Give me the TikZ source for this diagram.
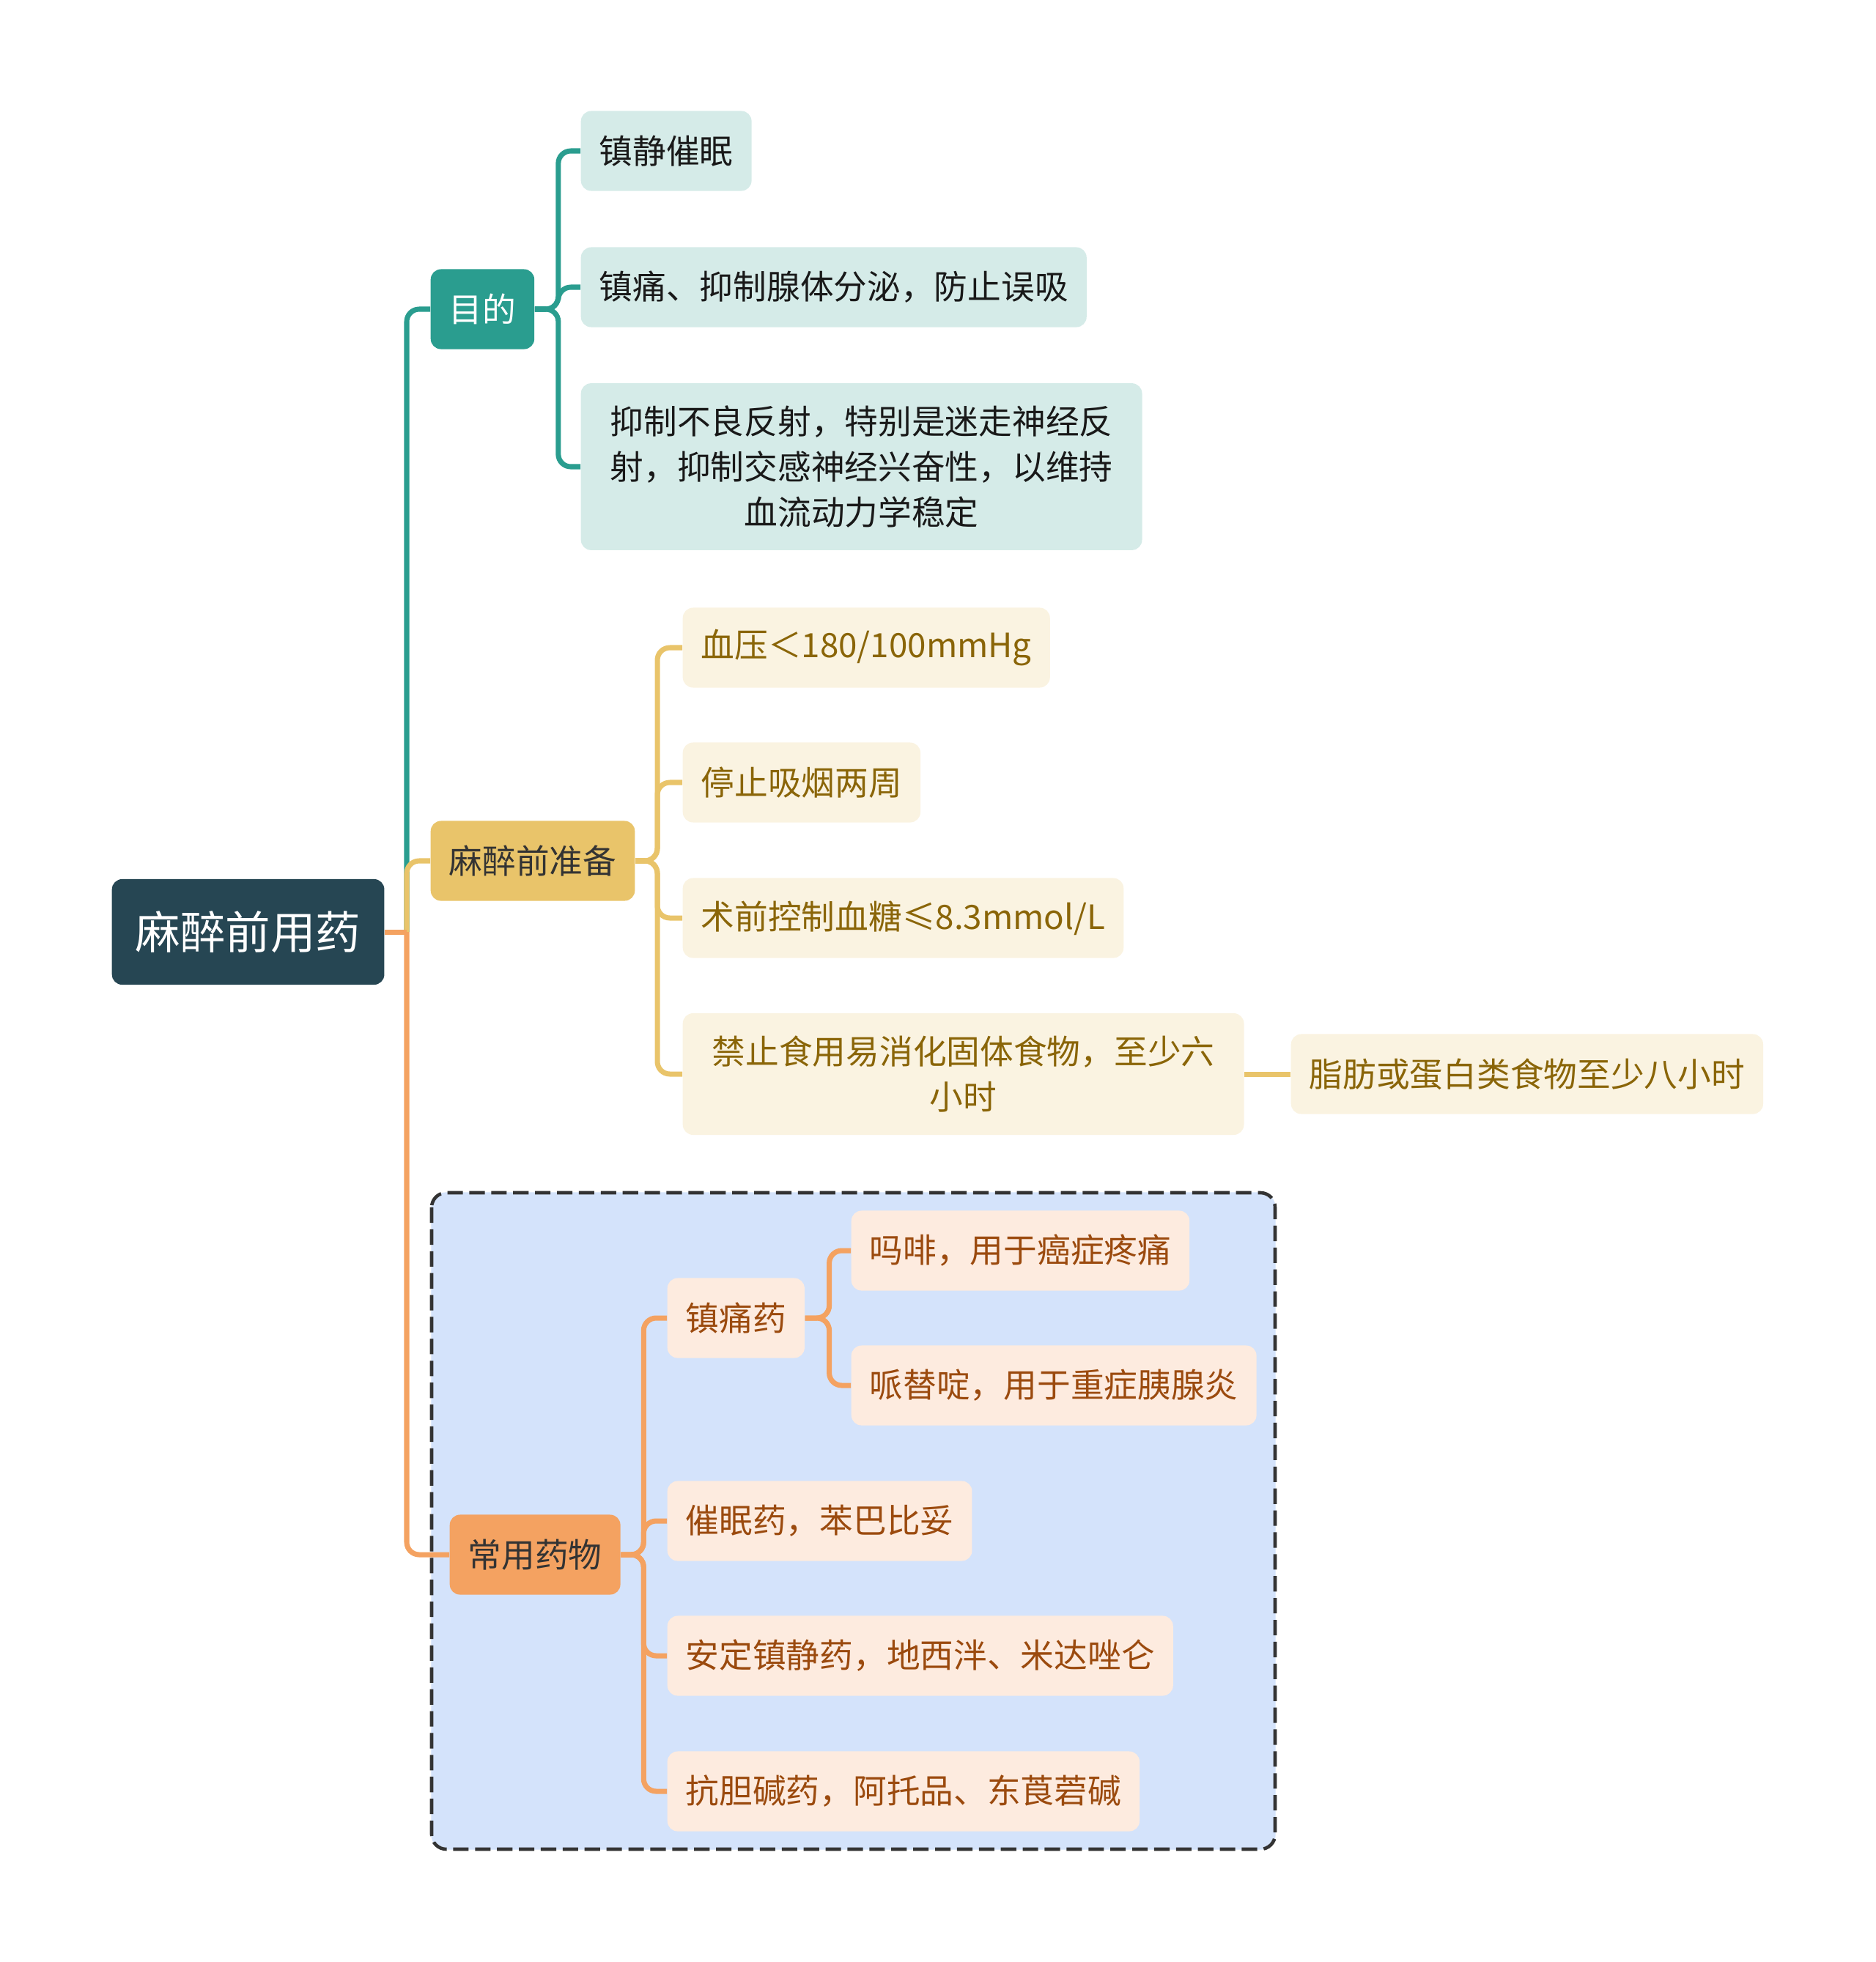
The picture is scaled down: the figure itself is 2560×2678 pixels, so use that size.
\documentclass[tikz,border=0pt]{standalone}
\usepackage{fontspec}
\setmainfont{Noto Sans CJK SC}
\usepackage{xcolor}
\usetikzlibrary{positioning}
\definecolor{rootfill}{HTML}{264653}
\definecolor{tealc}{HTML}{2A9D8F}
\definecolor{tealleaf}{HTML}{D5EBE8}
\definecolor{yellowc}{HTML}{E9C46A}
\definecolor{yellowleaf}{HTML}{FAF3E1}
\definecolor{yellowtext}{HTML}{8A6508}
\definecolor{orangec}{HTML}{F4A261}
\definecolor{orangeleaf}{HTML}{FDEBDF}
\definecolor{orangetext}{HTML}{9B4A0E}
\definecolor{groupfill}{HTML}{D4E3FB}
\newcommand{\nodefont}{\fontsize{13}{17.5}\selectfont}
\tikzset{
  base/.style={anchor=west, rounded corners=0.14cm, inner xsep=0.25cm, inner ysep=0.2cm,
    minimum height=1.09cm, font=\nodefont},
  rootbox/.style={base, fill=rootfill, text=white, inner xsep=0.32cm, minimum height=1.44cm,
    font=\fontsize{17.5}{21}\selectfont},
  tealtopic/.style={base, fill=tealc, text=white},
  yellowtopic/.style={base, fill=yellowc, text=black!80},
  orangetopic/.style={base, fill=orangec, text=black!80},
  tealleafbox/.style={base, fill=tealleaf, text=black!90},
  yellowleafbox/.style={base, fill=yellowleaf, text=yellowtext},
  orangeleafbox/.style={base, fill=orangeleaf, text=orangetext},
  multiline/.style={align=center, inner xsep=0.4cm, inner ysep=0.31cm},
  link/.style={line width=2pt, rounded corners=0.17cm}
}
\begin{document}
\begin{tikzpicture}[x=0.01cm, y=-0.01cm]
  \useasboundingbox (0,0) rectangle (2560,2678);

  % group frame
  \draw[groupfill!100, fill=groupfill, rounded corners=0.2cm] (589,1628) rectangle (1740,2524);
  \draw[black!80, line width=1.3pt, dash pattern=on 6pt off 2.5pt, rounded corners=0.2cm]
    (589,1628) rectangle (1740,2524);

  % root and topics
  \node[rootbox] (root) at (152,1272) {麻醉前用药};
  \node[tealtopic] (goal) at (587,422) {目的};
  \node[yellowtopic] (prep) at (587,1175) {麻醉前准备};
  \node[orangetopic] (drugs) at (613,2122) {常用药物};

  % goal leaves
  \node[tealleafbox] (g1) at (792,206) {镇静催眠};
  \node[tealleafbox] (g2) at (792,392) {镇痛、抑制腺体分泌，防止误吸};
  \node[tealleafbox, multiline] (g3) at (792,637)
    {抑制不良反射，特别是迷走神经反\\射，抑制交感神经兴奋性，以维持\\血流动力学稳定};

  % preparation leaves
  \node[yellowleafbox] (p1) at (931,884) {血压＜180/100mmHg};
  \node[yellowleafbox] (p2) at (931,1068) {停止吸烟两周};
  \node[yellowleafbox] (p3) at (931,1253) {术前控制血糖≤8.3mmol/L};
  \node[yellowleafbox, multiline] (p4) at (931,1466) {禁止食用易消化固体食物，至少六\\小时};
  \node[yellowleafbox] (p5) at (1761,1466) {脂肪或蛋白类食物至少八小时};

  % drug leaves
  \node[orangeleafbox] (d1) at (910,1799) {镇痛药};
  \node[orangeleafbox] (d11) at (1161,1707) {吗啡，用于癌症疼痛};
  \node[orangeleafbox] (d12) at (1161,1891) {哌替啶，用于重症胰腺炎};
  \node[orangeleafbox] (d2) at (910,2076) {催眠药，苯巴比妥};
  \node[orangeleafbox] (d3) at (910,2260) {安定镇静药，地西泮、米达唑仑};
  \node[orangeleafbox] (d4) at (910,2445) {抗胆碱药，阿托品、东莨菪碱};

  % connectors
  \coordinate (trunk) at (555,1272);
  \draw[link, tealc] (trunk) |- (goal.west);
  \draw[link, yellowc] (trunk) |- (prep.west);
  \draw[link, orangec] (trunk) |- (drugs.west);
  \draw[link, orangec] (root.east) -- (trunk);

  \foreach \c in {g1,g2,g3}
    \draw[link, tealc] (goal.east) -- ++(32,0) |- (\c.west);
  \foreach \c in {p1,p2,p3,p4}
    \draw[link, yellowc] (prep.east) -- ++(30,0) |- (\c.west);
  \draw[link, yellowc] (p4.east) -- (p5.west);
  \foreach \c in {d1,d2,d3,d4}
    \draw[link, orangec] (drugs.east) -- ++(31,0) |- (\c.west);
  \foreach \c in {d11,d12}
    \draw[link, orangec] (d1.east) -- ++(33,0) |- (\c.west);
\end{tikzpicture}
\end{document}
